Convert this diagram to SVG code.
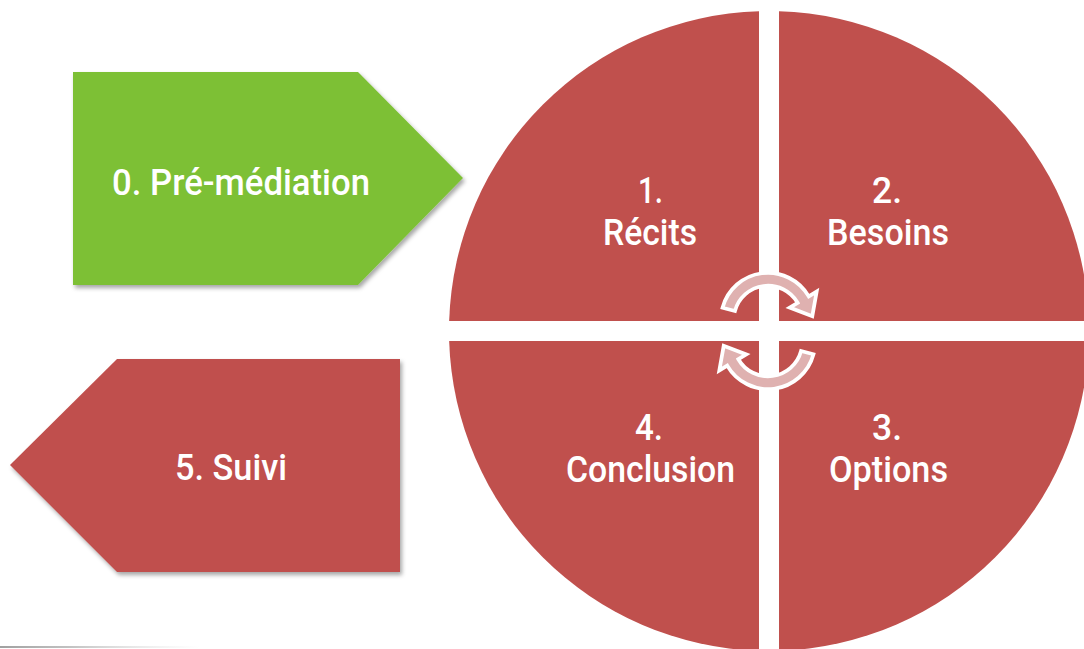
<svg xmlns="http://www.w3.org/2000/svg" width="1084" height="649" viewBox="0 0 1084 649">
<defs>
<filter id="sh" x="-10%" y="-10%" width="125%" height="130%">
<feDropShadow dx="2" dy="3" stdDeviation="2" flood-color="#000" flood-opacity="0.35"/>
</filter>
<linearGradient id="gl" x1="0" y1="0" x2="1" y2="0">
<stop offset="0" stop-color="#888" stop-opacity="0.8"/>
<stop offset="0.35" stop-color="#999" stop-opacity="0.6"/>
<stop offset="1" stop-color="#ccc" stop-opacity="0"/>
</linearGradient>
<path id="arcshape" d="M737.1,311.7 L725.5,308.6 A44,44 0 0 1 806.1,298 L813.5,293.5 L809.4,316.5 L788.3,308.5 L795.7,304 A32,32 0 0 0 737.1,311.7 Z"/>
</defs>
<style>
.q{fill:#C0504D}
.t{font-family:Roboto,"Liberation Sans",Arial,sans-serif;font-weight:500;font-size:37px;fill:#fff;text-anchor:middle}
.arr{fill:#DFB1B0;stroke:#fff;stroke-width:3.5;stroke-linejoin:miter}
</style>
<rect width="1084" height="649" fill="#fff"/>
<g id="node-premediation">
<path d="M73,72 L358,72 L463,178 L358,285 L73,285 Z" fill="#7DC036" filter="url(#sh)"/>
<text class="t" x="241" y="195" textLength="258" lengthAdjust="spacingAndGlyphs">0. Pré-médiation</text>
</g>
<g id="node-suivi">
<path d="M400,359 L117,359 L10,465 L117,572 L400,572 Z" fill="#C0504D" filter="url(#sh)"/>
<text class="t" x="231" y="480" textLength="112" lengthAdjust="spacingAndGlyphs">5. Suivi</text>
</g>
<g id="node-recits">
<path class="q" d="M759,321 L759,11.16 A320,320 0 0 0 449.16,321 Z"/>
<text class="t" x="650.5" y="203" textLength="25" lengthAdjust="spacingAndGlyphs">1.</text>
<text class="t" x="650" y="245" textLength="94" lengthAdjust="spacingAndGlyphs">Récits</text>
</g>
<g id="node-besoins">
<path class="q" d="M779,321 L1088.84,321 A320,320 0 0 0 779,11.16 Z"/>
<text class="t" x="887" y="203" textLength="30" lengthAdjust="spacingAndGlyphs">2.</text>
<text class="t" x="888" y="245" textLength="122" lengthAdjust="spacingAndGlyphs">Besoins</text>
</g>
<g id="node-options">
<path class="q" d="M779,341 L779,650.84 A320,320 0 0 0 1088.84,341 Z"/>
<text class="t" x="887" y="440" textLength="30" lengthAdjust="spacingAndGlyphs">3.</text>
<text class="t" x="888.5" y="482" textLength="119" lengthAdjust="spacingAndGlyphs">Options</text>
</g>
<g id="node-conclusion">
<path class="q" d="M759,341 L449.16,341 A320,320 0 0 0 759,650.84 Z"/>
<text class="t" x="649" y="440" textLength="28" lengthAdjust="spacingAndGlyphs">4.</text>
<text class="t" x="650.5" y="482" textLength="169" lengthAdjust="spacingAndGlyphs">Conclusion</text>
</g>
<g id="connectors">
<use id="arc-top" href="#arcshape" class="arr" transform="translate(768 321) scale(1.07) translate(-768 -321)"/>
<use id="arc-bottom" href="#arcshape" class="arr" transform="rotate(180 768 331) translate(768 321) scale(1.07) translate(-768 -321)"/>
</g>
<rect x="0" y="646" width="200" height="2" fill="url(#gl)"/>
</svg>
